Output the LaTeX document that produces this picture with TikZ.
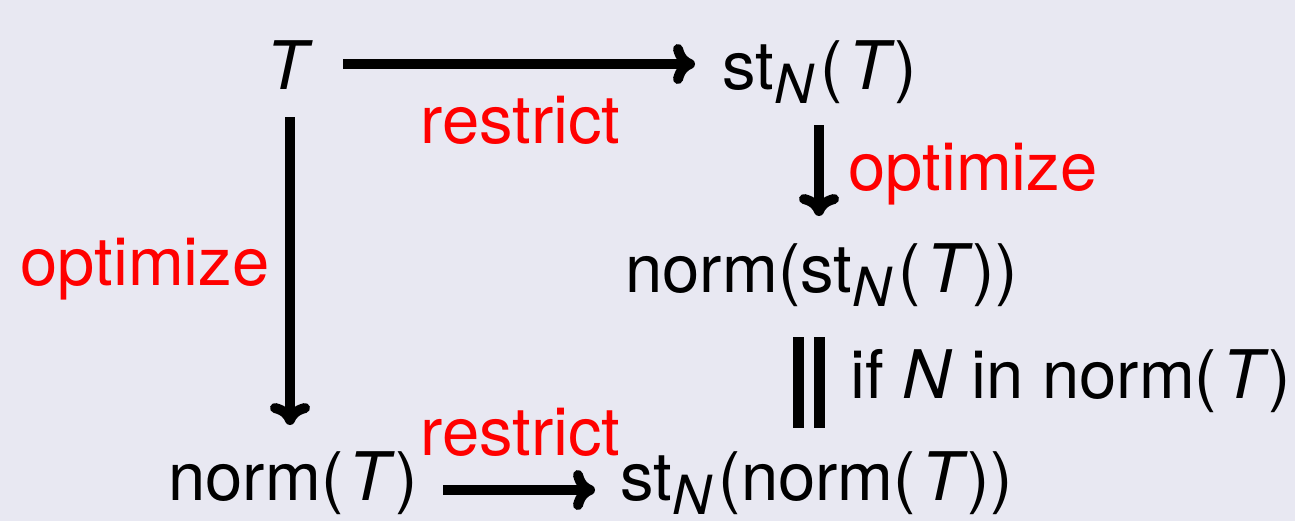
\documentclass[tikz,border=0pt]{standalone}
\usepackage{fontspec}
\setmainfont{TeX Gyre Heros}
\usetikzlibrary{arrows.meta}
\definecolor{bgcol}{HTML}{E8E8F2}
\definecolor{lblred}{HTML}{FF0000}
% subscript N, lowered below the baseline
\newcommand\subN{\raisebox{-0.21em}{\fontsize{27}{27}\selectfont\textit{N}}\kern3pt}
% italic T with a little room after an opening parenthesis
\newcommand\iT{\kern2.5pt\textit{T}}
\begin{document}
\begin{tikzpicture}[x=0.5pt,y=-0.5pt,
  txt/.style={inner sep=0pt,font=\fontsize{33.5}{40}\selectfont},
  lbl/.style={txt,text=lblred},
  arr/.style={line width=5pt,-{Computer Modern Rightarrow[length=11pt,width=20pt,line width=5pt]}},
  eqbar/.style={line width=5.5pt}]
\fill[bgcol] (0,0) rectangle (1295,521);
\useasboundingbox (0,0) rectangle (1295,521);

% objects of the square
\node[txt,anchor=base] (T) at (290,89) {\textit{T}};
\node[txt,anchor=base west] (stT) at (722,89) {st\subN(\iT)};
\node[txt,anchor=base west] (nst) at (625,292) {norm(st\subN(\iT))};
\node[txt,anchor=base west] (nT) at (168,500) {norm(\iT)};
\node[txt,anchor=base west] (stn) at (620,500) {st\subN(norm(\iT))};
\node[txt,anchor=base west] (cond) at (850,398) {if \textit{N} in norm(\iT)};

% arrow labels
\node[lbl,anchor=base west] (r1) at (420,143) {restrict};
\node[lbl,anchor=base west] (o1) at (848,190) {optimize};
\node[lbl,anchor=base west] (o2) at (20,285) {optimize};
\node[lbl,anchor=base west] (r2) at (420,455) {restrict};

% connectors
\draw[arr] ([shift={(53,-25)}]T.base) -- ([shift={(-27,-25)}]stT.base west);
\draw[arr] ([shift={(0,28)}]T.base) -- ([shift={(122,-75)}]nT.base west);
\draw[arr] ([shift={(97,36)}]stT.base west) -- ([shift={(194,-76)}]nst.base west);
\draw[arr] ([shift={(275,-10)}]nT.base west) -- ([shift={(-25,-10)}]stn.base west);
% equality between the two bottom-right objects
\draw[eqbar] ([shift={(173.5,45)}]nst.base west) -- ([shift={(178.5,-72)}]stn.base west);
\draw[eqbar] ([shift={(194.5,45)}]nst.base west) -- ([shift={(199.5,-72)}]stn.base west);
\end{tikzpicture}
\end{document}
